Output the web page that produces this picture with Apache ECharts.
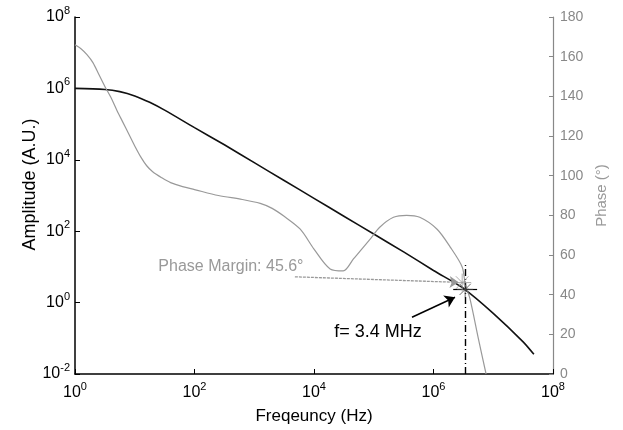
<!DOCTYPE html>
<html>
<head>
<meta charset="utf-8">
<script src="https://cdn.jsdelivr.net/npm/echarts@6/dist/echarts.min.js"></script>
<style>
html, body {margin: 0; padding: 0; background: #fff;}
#main {width: 623px; height: 430px;}
</style>
</head>
<body>
<div id="main"></div>
<script>
// all frequencies are log10(Hz), amplitudes log10(A.U.)
var ampFreq = [0, 0.5, 0.75, 1.0, 1.25, 1.5, 2.0, 2.5, 3.0, 3.5, 4.0, 4.5, 5.0, 5.5, 6.0, 6.5, 7.0, 7.5, 7.68];
var ampLog = [6.0, 5.97, 5.91, 5.79, 5.61, 5.39, 4.9, 4.42, 3.92, 3.42, 2.92, 2.42, 1.92, 1.42, 0.9, 0.4, -0.3, -1.1, -1.45];

var phaseFreq = [0, 0.1, 0.2, 0.3, 0.4, 0.5, 0.6, 0.7, 0.8, 0.9, 1.0, 1.1, 1.2, 1.3, 1.45, 1.6, 1.8, 2.0, 2.4, 2.8, 3.1, 3.3, 3.5, 3.77, 4.0, 4.27, 4.49, 4.66, 4.94, 5.1, 5.33, 5.55, 5.77, 6.06, 6.28, 6.48, 6.53, 6.61, 6.75, 6.88];
var phaseDeg = [166, 164, 161, 157, 151, 145, 139.5, 133, 127, 121, 115, 109.5, 105, 102, 99, 96.5, 94.5, 93, 90, 88, 86, 83.5, 79.5, 73, 63, 53, 52, 58, 68, 74, 79, 80, 79, 73, 64, 54, 45.6, 38, 18, 0];

var freqTicks = [0, 2, 4, 6, 8];
var ampTicks = [-2, 0, 2, 4, 6, 8];
var phaseTicks = [0, 20, 40, 60, 80, 100, 120, 140, 160, 180];

var crossFreq = 6.53;   // 3.4 MHz
var crossAmp = 0.37;
var phaseMargin = 45.6;

function zip(a, b) {
    return a.map(function (v, i) { return [v, b[i]]; });
}

function pow10(v) {
    return '{b|10}{s|' + v + '}';
}

var powRich = {
    b: {fontSize: 16, fontFamily: 'Liberation Sans', color: '#000'},
    s: {fontSize: 11, fontFamily: 'Liberation Sans', color: '#000', padding: [0, 0, 12, 0]}
};

var star = 'path://M0,-10L0,10M-10,0L10,0M-7,-7L7,7M-7,7L7,-7';

var myChart = echarts.init(document.getElementById('main'));
myChart.setOption({
    animation: false,
    textStyle: {fontFamily: 'Liberation Sans'},
    grid: {left: 75, right: 70, top: 17, bottom: 55},
    xAxis: {
        type: 'value',
        min: freqTicks[0],
        max: freqTicks[freqTicks.length - 1],
        interval: 2,
        name: 'Freqeuncy (Hz)',
        nameLocation: 'middle',
        nameGap: 34,
        nameTextStyle: {fontSize: 17, color: '#000'},
        axisLine: {onZero: false, lineStyle: {color: '#000', width: 1.5}},
        axisTick: {inside: true, length: 5, lineStyle: {color: '#000'}},
        axisLabel: {margin: 7, formatter: pow10, rich: powRich},
        splitLine: {show: false}
    },
    yAxis: [{
        type: 'value',
        min: ampTicks[0],
        max: ampTicks[ampTicks.length - 1],
        interval: 2,
        name: 'Amplitude (A.U.)',
        nameLocation: 'middle',
        nameRotate: 90,
        nameGap: 36,
        nameMoveOverlap: false,
        nameTextStyle: {fontSize: 18, color: '#000', padding: [0, 0, 0, 22]},
        axisLine: {show: true, onZero: false, lineStyle: {color: '#000', width: 1.5}},
        axisTick: {show: true, inside: true, length: 5, lineStyle: {color: '#000'}},
        axisLabel: {margin: 5, formatter: pow10, rich: powRich},
        splitLine: {show: false}
    }, {
        type: 'value',
        position: 'right',
        min: phaseTicks[0],
        max: phaseTicks[phaseTicks.length - 1],
        interval: 20,
        name: 'Phase (°)',
        nameLocation: 'middle',
        nameRotate: 90,
        nameGap: 41,
        nameTextStyle: {fontSize: 15, color: '#999'},
        axisLine: {show: true, onZero: false, lineStyle: {color: '#888', width: 1.2}},
        axisTick: {show: true, inside: true, length: 4, lineStyle: {color: '#888'}},
        axisLabel: {margin: 7, fontSize: 14, color: '#888'},
        splitLine: {show: false}
    }],
    series: [{
        name: 'Amplitude',
        type: 'line',
        yAxisIndex: 0,
        data: zip(ampFreq, ampLog),
        smooth: 0.3,
        showSymbol: false,
        lineStyle: {color: '#111', width: 1.6},
        markLine: {
            silent: true,
            symbol: 'none',
            label: {show: false},
            data: [
                [{coord: [crossFreq, ampTicks[0]], lineStyle: {type: [7, 3, 1, 3], color: '#000', width: 1.4}},
                 {coord: [crossFreq, crossAmp + 0.75]}],
                [{coord: [crossFreq - 0.2, crossAmp], lineStyle: {type: 'solid', color: '#000', width: 1.2}},
                 {coord: [crossFreq + 0.2, crossAmp]}],
                [{coord: [5.64, -0.41], symbol: 'none', lineStyle: {type: 'solid', color: '#000', width: 1.5}},
                 {coord: [6.36, 0.15], symbol: 'arrow', symbolSize: 10}]
            ]
        },
        markPoint: {
            silent: true,
            data: [{
                coord: [crossFreq, crossAmp],
                symbol: star,
                symbolSize: 16,
                itemStyle: {color: 'none', borderColor: '#444', borderWidth: 0.8},
                label: {show: false}
            }, {
                coord: [5.07, -0.83],
                symbol: 'circle',
                symbolSize: 0,
                label: {show: true, position: 'inside', formatter: 'f= 3.4 MHz', fontSize: 18, color: '#000'}
            }]
        }
    }, {
        name: 'Phase',
        type: 'line',
        yAxisIndex: 1,
        data: zip(phaseFreq, phaseDeg),
        smooth: 0.3,
        showSymbol: false,
        lineStyle: {color: '#999', width: 1.2},
        markLine: {
            silent: true,
            symbol: 'none',
            label: {show: false},
            data: [
                [{coord: [3.68, 49], lineStyle: {type: [3, 1], color: '#999', width: 1.3}},
                 {coord: [6.42, phaseMargin + 0.6], symbol: 'arrow', symbolSize: 9}]
            ]
        },
        markPoint: {
            silent: true,
            data: [{
                coord: [6.48, phaseMargin + 0.5],
                symbol: star,
                symbolSize: 18,
                itemStyle: {color: 'none', borderColor: '#999', borderWidth: 0.8},
                label: {show: false}
            }, {
                coord: [2.61, 54.3],
                symbol: 'circle',
                symbolSize: 0,
                label: {show: true, position: 'inside', formatter: 'Phase Margin: ' + phaseMargin + '°', fontSize: 16, color: '#999'}
            }]
        }
    }]
});
</script>
</body>
</html>
